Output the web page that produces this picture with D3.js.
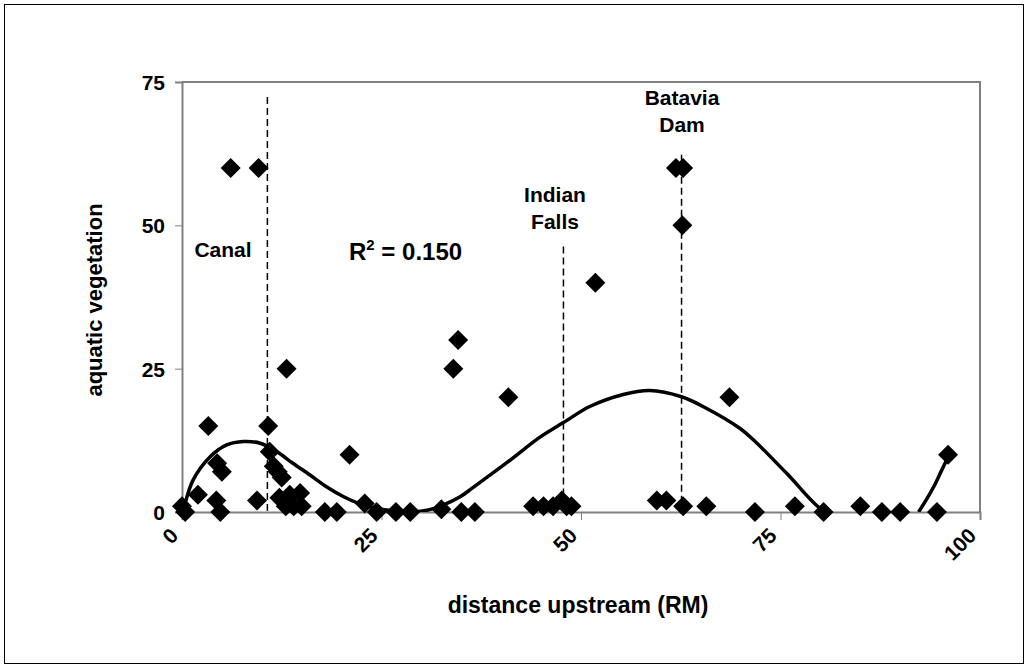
<!DOCTYPE html>
<html>
<head>
<meta charset="utf-8">
<script src="https://cdn.jsdelivr.net/npm/d3@7"></script>
<style>
  html, body { margin: 0; padding: 0; background: #fff; }
  svg text { font-family: Arial, "Liberation Sans", sans-serif; font-weight: bold; fill: #000; }
</style>
</head>
<body>
<svg id="chart" width="1029" height="669"></svg>
<script>
// Survey sites: distance upstream (river miles) and aquatic vegetation cover
const distance = [0, 0.4, 2, 3.3, 4.3, 4.8, 4.4, 5, 6.1, 9.6, 9.4, 10.8, 11, 11.5, 12, 12.5, 12.2, 13.1, 13, 13.5, 14, 14.8, 15,
  17.9, 19.4, 21, 22.9, 24.4, 26.8, 28.6, 32.5, 34, 34.6, 35, 36.7, 40.9, 44, 45.3, 46.5, 47.6, 48.2, 48.8, 51.8,
  59.5, 60.7, 61.9, 62.8, 62.7, 62.8, 65.7, 68.6, 71.8, 76.8, 80.4, 85, 87.7, 90, 94.6, 96];
const vegetation = [1, 0, 3, 15, 2, 0, 8.5, 7, 60, 60, 2, 15, 10.5, 8, 7, 6, 2.5, 25, 1, 3, 1, 3.3, 1,
  0, 0, 10, 1.5, 0, 0, 0, 0.5, 25, 30, 0, 0, 20, 1, 1, 1, 2, 1, 1, 40,
  2, 2, 60, 60, 50, 1, 1, 20, 0, 1, 0, 1, 0, 0, 0, 10];

// Polynomial trendline, in two visible pieces (it dips below zero between them)
const trendX = [0.4, 1.4, 3.5, 5.6, 7.7, 9.8, 11.9, 13.9, 16, 18.1, 20.2, 22.3, 24.4, 26.5, 29, 30.7, 32.7, 34.8, 36.5, 40.7, 44.9, 47.8, 51.1, 55.3, 58.6, 62.6, 65.7, 69.9, 71.6, 75.8, 80, 81.2];
const trendY = [1.5, 5.6, 9.6, 11.7, 12.3, 12, 10.5, 8.5, 6.5, 4.4, 2.7, 1.4, 0.6, 0.2, 0.05, 0.3, 1.2, 2.6, 4.3, 8.6, 13.1, 15.6, 18.4, 20.5, 21.2, 20.1, 18.1, 14.6, 12.6, 6.7, 0.6, 0];
const trendTailX = [92.3, 93.3, 94.2, 95.1, 96];
const trendTailY = [0, 2.2, 4.4, 7, 9.6];

// Landmarks along the river
const landmarkNames = [["Canal"], ["Indian", "Falls"], ["Batavia", "Dam"]];
const landmarkMile = [10.7, 47.8, 62.6];
const landmarkTop = [72.4, 46.3, 62.3];

const xTicks = [0, 25, 50, 75, 100];
const yTicks = [0, 25, 50, 75];
const rSquaredLabel = "0.150";

const svg = d3.select("#chart");
const x = d3.scaleLinear().domain([0, 100]).range([182, 980]);
const y = d3.scaleLinear().domain([0, 75]).range([512, 82]);

// outer chart frame
svg.append("rect").attr("x", 4.5).attr("y", 4.5).attr("width", 1019).attr("height", 659)
  .attr("fill", "#fff").attr("stroke", "#000").attr("stroke-width", 1);

svg.append("defs").append("clipPath").attr("id", "plotclip")
  .append("rect").attr("x", x(0)).attr("y", y(75)).attr("width", x(100) - x(0)).attr("height", y(0) - y(75));

// plot area border (top and right)
svg.append("path")
  .attr("d", `M${x(0)},${y(75)}H${x(100)}V${y(0)}`)
  .attr("fill", "none").attr("stroke", "#808080").attr("stroke-width", 2);

// y axis
const yAxis = svg.append("g").attr("transform", `translate(${x(0)},0)`)
  .call(d3.axisLeft(y).tickValues(yTicks).tickSize(7).tickPadding(10).tickFormat(d3.format("d")));
yAxis.select(".domain").attr("stroke", "#808080").attr("stroke-width", 2);
yAxis.selectAll(".tick line").attr("stroke", "#808080").attr("stroke-width", 1);
yAxis.selectAll(".tick text").style("font-size", "21px").attr("dy", "0.35em");

// x axis
const xAxis = svg.append("g").attr("transform", `translate(0,${y(0)})`)
  .call(d3.axisBottom(x).tickValues(xTicks).tickSize(8).tickFormat(d3.format("d")));
xAxis.select(".domain").attr("stroke", "#808080").attr("stroke-width", 2);
xAxis.selectAll(".tick line").attr("stroke", "#808080").attr("stroke-width", 1);
xAxis.selectAll(".tick text")
  .style("font-size", "21px")
  .attr("text-anchor", "end")
  .attr("dy", 0).attr("y", 0)
  .attr("transform", "translate(-3,25) rotate(-45)");

// axis titles
svg.append("text").attr("x", 578).attr("y", 613).attr("text-anchor", "middle")
  .style("font-size", "23px").text("distance upstream (RM)");
svg.append("text").attr("transform", "translate(102,300) rotate(-90)").attr("text-anchor", "middle")
  .style("font-size", "22px").text("aquatic vegetation");

// landmark dashed lines
svg.append("g").selectAll("line").data(landmarkMile).join("line")
  .attr("x1", d => x(d)).attr("x2", d => x(d))
  .attr("y1", (d, i) => y(landmarkTop[i])).attr("y2", y(0))
  .attr("stroke", "#000").attr("stroke-width", 1.5).attr("stroke-dasharray", "7,4");

// trendline
const trendLine = d3.line().x(d => x(d[0])).y(d => y(d[1])).curve(d3.curveCatmullRom);
[d3.zip(trendX, trendY), d3.zip(trendTailX, trendTailY)].forEach(seg => {
  svg.append("path").datum(seg).attr("clip-path", "url(#plotclip)")
    .attr("d", trendLine)
    .attr("fill", "none").attr("stroke", "#000").attr("stroke-width", 3.5);
});

// data markers: filled diamonds
const diamond = "M0,-10L10,0L0,10L-10,0Z";
svg.append("g").selectAll("path").data(d3.zip(distance, vegetation)).join("path")
  .attr("transform", d => `translate(${x(d[0])},${y(d[1])})`)
  .attr("d", diamond).attr("fill", "#000");

// landmark labels
const labelPos = [[223, 257], [555, 202], [682, 105]];
landmarkNames.forEach((lines, i) => {
  const t = svg.append("text").attr("text-anchor", "middle")
    .attr("x", labelPos[i][0]).attr("y", labelPos[i][1]).style("font-size", "21px");
  lines.forEach((s, k) => t.append("tspan").attr("x", labelPos[i][0]).attr("dy", k === 0 ? 0 : 27).text(s));
});

// R² annotation
const rt = svg.append("text").attr("x", 349).attr("y", 260).style("font-size", "24px");
rt.append("tspan").text("R");
rt.append("tspan").attr("dy", -10).style("font-size", "15px").text("2");
rt.append("tspan").attr("dy", 10).text(" = " + rSquaredLabel);
</script>
</body>
</html>
